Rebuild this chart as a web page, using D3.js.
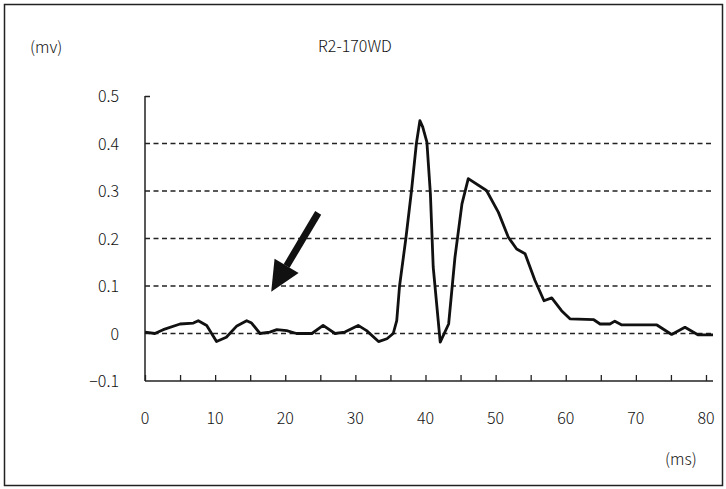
<!DOCTYPE html>
<html>
<head>
<meta charset="utf-8">
<script src="https://cdn.jsdelivr.net/npm/d3@7"></script>
<style>
  body { margin: 0; background: #fff; }
  svg text { font-family: "Noto Sans CJK JP", "DejaVu Sans", sans-serif; fill: #111; font-weight: 300; }
</style>
</head>
<body>
<svg id="chart" width="726" height="489"></svg>
<script>
// time (ms) and voltage (mV)
const timeMs = [0, 1.4, 2.6, 5, 6.9, 7.6, 8.8, 10.2, 11.6, 13.1, 14.5, 15.2, 16.4, 17.8, 18.8, 20.2,
    21.6, 23.8, 25.4, 27.1, 28.5, 30.4, 31.6, 33.3, 34.5, 35.4, 35.9, 36.3, 37.2, 38.0, 38.7,
    39.2, 39.6, 40.2, 40.7, 41.1, 42.1, 43.3, 44.2, 45.2, 46.1, 48.7, 50.4, 51.8, 53.0, 54.2, 55.6,
    56.9, 58.0, 59.4, 60.6, 64.0, 64.9, 66.3, 67.0, 68.0, 73.0, 75.1, 77.0, 78.9, 81.0];
const voltMv = [0.003, 0, 0.008, 0.02, 0.022, 0.027, 0.017, -0.017, -0.008, 0.016, 0.027, 0.022, 0, 0.003, 0.008, 0.006,
    0, 0, 0.017, 0, 0.003, 0.017, 0.006, -0.017, -0.011, 0, 0.027, 0.1, 0.2, 0.3, 0.4,
    0.448, 0.435, 0.403, 0.294, 0.14, -0.018, 0.02, 0.16, 0.273, 0.326, 0.301, 0.255, 0.203, 0.178, 0.168, 0.112,
    0.069, 0.075, 0.048, 0.031, 0.029, 0.02, 0.02, 0.026, 0.018, 0.018, -0.002, 0.013, -0.003, -0.003];

const yTicks = [-0.1, 0, 0.1, 0.2, 0.3, 0.4, 0.5];
const yGrid = [0, 0.1, 0.2, 0.3, 0.4];
const xTicks = [0, 10, 20, 30, 40, 50, 60, 70, 80];
const xMinor = d3.range(0, 81, 5);
const title = 'R2-170WD';

// arrow annotation [ms, mV]: tail then tip
const arrowPts = [[24.7, 0.254], [18.0, 0.088]];

const svg = d3.select('#chart');

// frame round the figure
svg.append('rect')
    .attr('x', 4.5).attr('y', 4.5)
    .attr('width', 718).attr('height', 481)
    .attr('fill', 'none')
    .attr('stroke', '#222')
    .attr('stroke-width', 1.5);

const x = d3.scaleLinear().domain([0, 81]).range([145, 713]);
const y = d3.scaleLinear().domain([-0.1, 0.5]).range([381, 96]);

// dashed grid
svg.selectAll('.grid')
    .data(yGrid)
    .join('line')
    .attr('class', 'grid')
    .attr('x1', x(0)).attr('x2', x(81))
    .attr('y1', d => y(d)).attr('y2', d => y(d))
    .attr('stroke', '#222')
    .attr('stroke-width', 1.4)
    .attr('stroke-dasharray', '5,3.5');

// y axis
svg.append('g')
    .attr('transform', `translate(${x(0)},0)`)
    .call(d3.axisRight(y).tickValues([0.5]).tickSize(5).tickFormat(''))
    .call(g => g.select('.domain').remove())
    .call(g => g.selectAll('line').attr('stroke', '#222').attr('stroke-width', 1.5));

svg.append('line')
    .attr('x1', x(0)).attr('x2', x(0))
    .attr('y1', y(0.5)).attr('y2', y(-0.1))
    .attr('stroke', '#222').attr('stroke-width', 1.5);

svg.selectAll('.ylab')
    .data(yTicks)
    .join('text')
    .attr('class', 'ylab')
    .attr('x', 119)
    .attr('y', d => y(d) + 6)
    .attr('text-anchor', 'end')
    .attr('font-size', 16)
    .text(d => d === 0 ? '0' : (d < 0 ? '\u2212' + Math.abs(d) : d));

// x axis with inward ticks every 5 ms
svg.append('g')
    .attr('transform', `translate(0,${y(-0.1)})`)
    .call(d3.axisTop(x).tickValues(xMinor).tickSize(6).tickFormat(''))
    .call(g => g.select('.domain').remove())
    .call(g => g.selectAll('line').attr('stroke', '#222').attr('stroke-width', 1.3));

svg.append('line')
    .attr('x1', x(0)).attr('x2', x(81))
    .attr('y1', y(-0.1)).attr('y2', y(-0.1))
    .attr('stroke', '#222').attr('stroke-width', 1.5);

svg.selectAll('.xlab')
    .data(xTicks)
    .join('text')
    .attr('class', 'xlab')
    .attr('x', d => x(d))
    .attr('y', 424)
    .attr('text-anchor', 'middle')
    .attr('font-size', 16)
    .text(d => d);

// trace
const line = d3.line()
    .x((d, i) => x(timeMs[i]))
    .y(d => y(d));

svg.append('path')
    .datum(voltMv)
    .attr('d', line)
    .attr('fill', 'none')
    .attr('stroke', '#111')
    .attr('stroke-width', 2.8)
    .attr('stroke-linejoin', 'round');

// arrow
const tail = [x(arrowPts[0][0]), y(arrowPts[0][1])];
const tip = [x(arrowPts[1][0]), y(arrowPts[1][1])];
const ang = Math.atan2(tip[1] - tail[1], tip[0] - tail[0]);
const headLen = 30, headW = 14;
const base = [tip[0] - headLen * Math.cos(ang), tip[1] - headLen * Math.sin(ang)];
svg.append('line')
    .attr('x1', tail[0]).attr('y1', tail[1])
    .attr('x2', base[0]).attr('y2', base[1])
    .attr('stroke', '#111').attr('stroke-width', 7);
svg.append('polygon')
    .attr('points', [
        tip,
        [base[0] + headW * Math.sin(ang), base[1] - headW * Math.cos(ang)],
        [base[0] - headW * Math.sin(ang), base[1] + headW * Math.cos(ang)]
    ].map(p => p.join(',')).join(' '))
    .attr('fill', '#111');

// titles
svg.append('text').attr('x', 30).attr('y', 53).attr('font-size', 16).text('(mv)');
svg.append('text').attr('x', 355).attr('y', 52).attr('text-anchor', 'middle').attr('font-size', 16).text(title);
svg.append('text').attr('x', 665).attr('y', 465).attr('font-size', 16).text('(ms)');
</script>
</body>
</html>
